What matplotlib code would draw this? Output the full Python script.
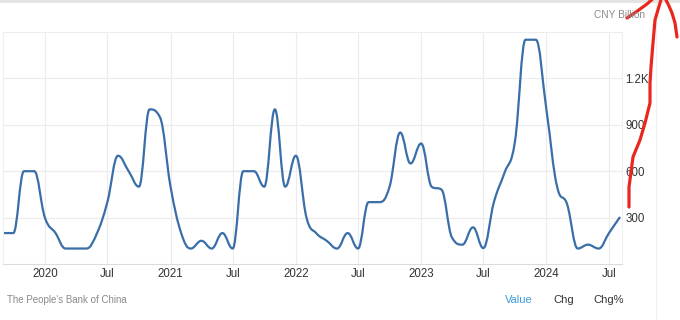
import matplotlib
matplotlib.use("Agg")
import matplotlib.pyplot as plt
import matplotlib.dates as mdates
from matplotlib.path import Path
from matplotlib.patches import PathPatch, Rectangle
from matplotlib.lines import Line2D
import numpy as np
import pandas as pd

plt.rcParams['font.family'] = ['Liberation Sans', 'DejaVu Sans']

# 数据 (CNY Billion, 月度)
months = pd.date_range("2019-09-01", "2024-08-01", freq="MS")
values = [
    200, 200, 600, 600,                                                  # 2019
    300, 200, 100, 100, 100, 200, 400, 700, 600, 500, 1000, 950,         # 2020
    500, 200, 100, 150, 100, 200, 100, 600, 600, 500, 1000, 500,         # 2021
    700, 300, 200, 150, 100, 200, 100, 400, 400, 500, 850, 650,          # 2022
    779, 499, 481, 170, 125, 237, 103, 401, 591, 789, 1450, 1450,        # 2023
    995, 500, 387, 100, 125, 100, 200, 300,                              # 2024
]
y_ticks = [300, 600, 900, 1200, 1500]
y_labels = ["300", "600", "900", "1.2K", ""]
x_ticks = pd.to_datetime(["2020-01-01", "2020-07-01", "2021-01-01", "2021-07-01",
                          "2022-01-01", "2022-07-01", "2023-01-01", "2023-07-01",
                          "2024-01-01", "2024-07-01"])
x_labels = ["2020", "Jul", "2021", "Jul", "2022", "Jul", "2023", "Jul", "2024", "Jul"]

# 手绘红色箭头 (像素坐标, 截图上的批注)
scribble_main = [(629, 207), (629, 187), (633, 157), (640, 140), (645, 123), (650, 103),
                 (650, 83), (651, 67), (653, 43), (655, 20), (660, 3), (662, -4)]
scribble_left = [(627, 18), (636, 12), (647, 4), (656, -4)]
scribble_right = [(664, -4), (669, 6), (672, 13), (675, 23), (677, 37)]

LINE = "#3a6ea8"
GRID = "#ececec"
TEXT = "#333333"
MUTED = "#8a8a8a"


def spline_path(xs, ys):
    """Highcharts 风格样条路径"""
    sm, den = 1.5, 2.5
    n = len(xs)
    rc = [(xs[0], ys[0])] + [None] * (n - 1)
    lc = [None] * n
    lc[-1] = (xs[-1], ys[-1])
    for i in range(1, n - 1):
        x, y = xs[i], ys[i]
        lx, ly, nx, ny = xs[i - 1], ys[i - 1], xs[i + 1], ys[i + 1]
        lcx = (sm * x + lx) / den
        lcy = (sm * y + ly) / den
        rcx = (sm * x + nx) / den
        rcy = (sm * y + ny) / den
        corr = (rcy - lcy) * (rcx - x) / (rcx - lcx) + y - rcy
        lcy += corr
        rcy += corr
        if lcy > ly and lcy > y:
            lcy = max(ly, y)
            rcy = 2 * y - lcy
        elif lcy < ly and lcy < y:
            lcy = min(ly, y)
            rcy = 2 * y - lcy
        if rcy > ny and rcy > y:
            rcy = max(ny, y)
            lcy = 2 * y - rcy
        elif rcy < ny and rcy < y:
            rcy = min(ny, y)
            lcy = 2 * y - rcy
        lc[i] = (lcx, lcy)
        rc[i] = (rcx, rcy)
    verts = [(xs[0], ys[0])]
    codes = [Path.MOVETO]
    for i in range(1, n):
        verts += [rc[i - 1], lc[i], (xs[i], ys[i])]
        codes += [Path.CURVE4] * 3
    return Path(verts, codes)


W, H = 680, 320
fig = plt.figure(figsize=(W / 100, H / 100), dpi=100)
ax = fig.add_axes([3 / W, 56 / H, 619 / W, 232 / H])

xnum = mdates.date2num(months)
ax.add_patch(PathPatch(spline_path(list(xnum), list(values)), fill=False,
                       edgecolor=LINE, linewidth=1.6, capstyle="round", joinstyle="round"))

ax.set_xlim(mdates.date2num(pd.Timestamp("2019-09-01")), mdates.date2num(pd.Timestamp("2024-08-08")))
ax.set_ylim(0, 1500)

ax.set_xticks(mdates.date2num(x_ticks))
ax.set_xticklabels(x_labels)
ax.set_yticks(y_ticks)
ax.set_yticklabels(y_labels)
ax.yaxis.tick_right()
ax.tick_params(axis="x", length=0, pad=3, labelsize=8.3, labelcolor=TEXT)
ax.tick_params(axis="y", length=0, pad=2.5, labelsize=8.3, labelcolor=TEXT)
ax.grid(True, color=GRID, linewidth=0.8)
ax.set_axisbelow(True)
for s in ["left", "right", "top"]:
    ax.spines[s].set_color("#f0f0f0")
    ax.spines[s].set_linewidth(0.8)
ax.spines["top"].set_visible(False)
ax.spines["bottom"].set_color("#dcdcdc")
ax.spines["bottom"].set_linewidth(0.8)

# 文字
fig.text(594 / W, 1 - 15 / H, "CNY Billion", fontsize=7.3, color=MUTED, va="center", ha="left")
fig.text(7 / W, 1 - 300 / H, "The People's Bank of China", fontsize=7, color=MUTED, va="center", ha="left")
fig.text(505 / W, 1 - 300 / H, "Value", fontsize=8, color="#3c9ad6", va="center", ha="left")
fig.text(553 / W, 1 - 300 / H, "Chg", fontsize=8, color=TEXT, va="center", ha="left")
fig.text(593 / W, 1 - 300 / H, "Chg%", fontsize=8, color=TEXT, va="center", ha="left")

# 顶部灰条和右侧分隔线
fig.add_artist(Rectangle((0, 1 - 3 / H), 1, 3 / H, transform=fig.transFigure,
                         facecolor="#e4e4e4", edgecolor="none"))
fig.add_artist(Line2D([656 / W, 656 / W], [0, 1 - 3 / H], transform=fig.transFigure,
                      color="#efefef", linewidth=0.8))

# 红色批注
for pts in [scribble_main, scribble_left, scribble_right]:
    px = [p[0] / W for p in pts]
    py = [1 - p[1] / H for p in pts]
    fig.add_artist(Line2D(px, py, transform=fig.transFigure, color="#e8281e",
                          linewidth=2.3, solid_capstyle="round", solid_joinstyle="round"))

fig.savefig("out.png", dpi=100)
